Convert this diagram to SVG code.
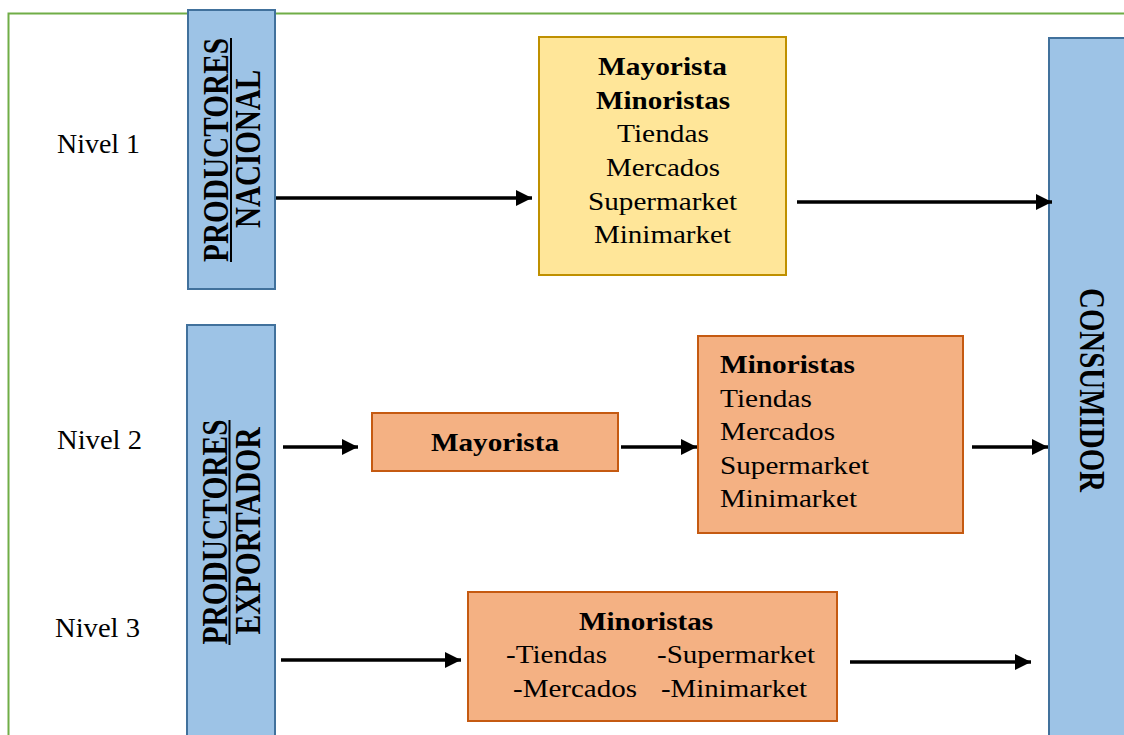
<svg xmlns="http://www.w3.org/2000/svg" width="1124" height="735" viewBox="0 0 1124 735">
  <defs>
    <style>
      .t { font-size: 26px; fill: #000; }
      .n { font-size: 27px; fill: #000; }
      .b { font-weight: bold; }
      .rt { font-size: 29px; font-weight: bold; fill: #000; }
      .blue { fill: #9DC3E6; stroke: #41719C; stroke-width: 2; }
      .yellow { fill: #FFE699; stroke: #BF9000; stroke-width: 2; }
      .orange { fill: #F4B183; stroke: #C55A11; stroke-width: 2; }
      .conn line { stroke: #000; stroke-width: 3.5; marker-end: url(#arrow); }
    </style>
    <marker id="arrow" markerUnits="userSpaceOnUse" markerWidth="17" markerHeight="17" refX="16" refY="8" orient="auto">
      <path d="M0,0 L16,8 L0,16 z" fill="#000"/>
    </marker>
  </defs>
  <rect x="0" y="0" width="1124" height="735" fill="#fff"/>
  <g id="frame">
    <rect x="8.5" y="13.5" width="1130" height="740" fill="none" stroke="#70AD47" stroke-width="2"/>
  </g>
  <g font-family="'Liberation Serif', 'Times New Roman', Times, serif">
  <g id="levels">
    <text class="n" x="57" y="153" textLength="83" lengthAdjust="spacingAndGlyphs">Nivel 1</text>
    <text class="n" x="57" y="449" textLength="85" lengthAdjust="spacingAndGlyphs">Nivel 2</text>
    <text class="n" x="55" y="637" textLength="85" lengthAdjust="spacingAndGlyphs">Nivel 3</text>
  </g>
  <g id="prod-nacional">
    <rect class="blue" x="188" y="10" width="87" height="279"/>
    <text class="rt" text-anchor="middle" textLength="224" lengthAdjust="spacingAndGlyphs" transform="translate(228,150) scale(1.2,1) rotate(-90)">PRODUCTORES</text>
    <line x1="231" y1="38" x2="231" y2="262" stroke="#000" stroke-width="2"/>
    <text class="rt" text-anchor="middle" textLength="158" lengthAdjust="spacingAndGlyphs" transform="translate(260,149) scale(1.2,1) rotate(-90)">NACIONAL</text>
  </g>
  <g id="prod-exportador">
    <rect class="blue" x="187" y="325" width="88" height="430"/>
    <text class="rt" text-anchor="middle" textLength="225" lengthAdjust="spacingAndGlyphs" transform="translate(227,532) scale(1.2,1) rotate(-90)">PRODUCTORES</text>
    <line x1="229.5" y1="420" x2="229.5" y2="645" stroke="#000" stroke-width="2"/>
    <text class="rt" text-anchor="middle" textLength="207" lengthAdjust="spacingAndGlyphs" transform="translate(260,531) scale(1.2,1) rotate(-90)">EXPORTADOR</text>
  </g>
  <g id="consumidor">
    <rect class="blue" x="1049" y="38" width="100" height="720"/>
    <text class="rt" text-anchor="middle" textLength="204" lengthAdjust="spacingAndGlyphs" transform="translate(1080,390) scale(1.2,1) rotate(90)">CONSUMIDOR</text>
  </g>
  <g id="box-nivel1">
    <rect class="yellow" x="539" y="37" width="247" height="238"/>
    <text class="t b" x="598" y="75" textLength="129" lengthAdjust="spacingAndGlyphs">Mayorista</text>
    <text class="t b" x="596" y="109" textLength="134" lengthAdjust="spacingAndGlyphs">Minoristas</text>
    <text class="t" x="617" y="142" textLength="92" lengthAdjust="spacingAndGlyphs">Tiendas</text>
    <text class="t" x="606" y="176" textLength="114" lengthAdjust="spacingAndGlyphs">Mercados</text>
    <text class="t" x="588" y="210" textLength="149" lengthAdjust="spacingAndGlyphs">Supermarket</text>
    <text class="t" x="594" y="243" textLength="137" lengthAdjust="spacingAndGlyphs">Minimarket</text>
  </g>
  <g id="box-mayorista">
    <rect class="orange" x="372" y="413" width="246" height="58"/>
    <text class="t b" x="431" y="451" textLength="128" lengthAdjust="spacingAndGlyphs">Mayorista</text>
  </g>
  <g id="box-minoristas2">
    <rect class="orange" x="698" y="336" width="265" height="197"/>
    <text class="t b" x="720" y="373" textLength="135" lengthAdjust="spacingAndGlyphs">Minoristas</text>
    <text class="t" x="720" y="407" textLength="92" lengthAdjust="spacingAndGlyphs">Tiendas</text>
    <text class="t" x="720" y="440" textLength="115" lengthAdjust="spacingAndGlyphs">Mercados</text>
    <text class="t" x="720" y="474" textLength="149" lengthAdjust="spacingAndGlyphs">Supermarket</text>
    <text class="t" x="720" y="507" textLength="137" lengthAdjust="spacingAndGlyphs">Minimarket</text>
  </g>
  <g id="box-minoristas3">
    <rect class="orange" x="468" y="592" width="369" height="129"/>
    <text class="t b" x="579" y="630" textLength="134" lengthAdjust="spacingAndGlyphs">Minoristas</text>
    <text class="t" x="506" y="663" textLength="101" lengthAdjust="spacingAndGlyphs">-Tiendas</text>
    <text class="t" x="657" y="663" textLength="158" lengthAdjust="spacingAndGlyphs">-Supermarket</text>
    <text class="t" x="513" y="697" textLength="124" lengthAdjust="spacingAndGlyphs">-Mercados</text>
    <text class="t" x="661" y="697" textLength="146" lengthAdjust="spacingAndGlyphs">-Minimarket</text>
  </g>
  </g>
  <g id="connectors" class="conn">
    <line x1="276" y1="198" x2="532" y2="198"/>
    <line x1="797" y1="202" x2="1052" y2="202"/>
    <line x1="283" y1="447" x2="358" y2="447"/>
    <line x1="621" y1="447" x2="697" y2="447"/>
    <line x1="972" y1="447" x2="1048" y2="447"/>
    <line x1="281" y1="660" x2="461" y2="660"/>
    <line x1="850" y1="662" x2="1031" y2="662"/>
  </g>
</svg>
